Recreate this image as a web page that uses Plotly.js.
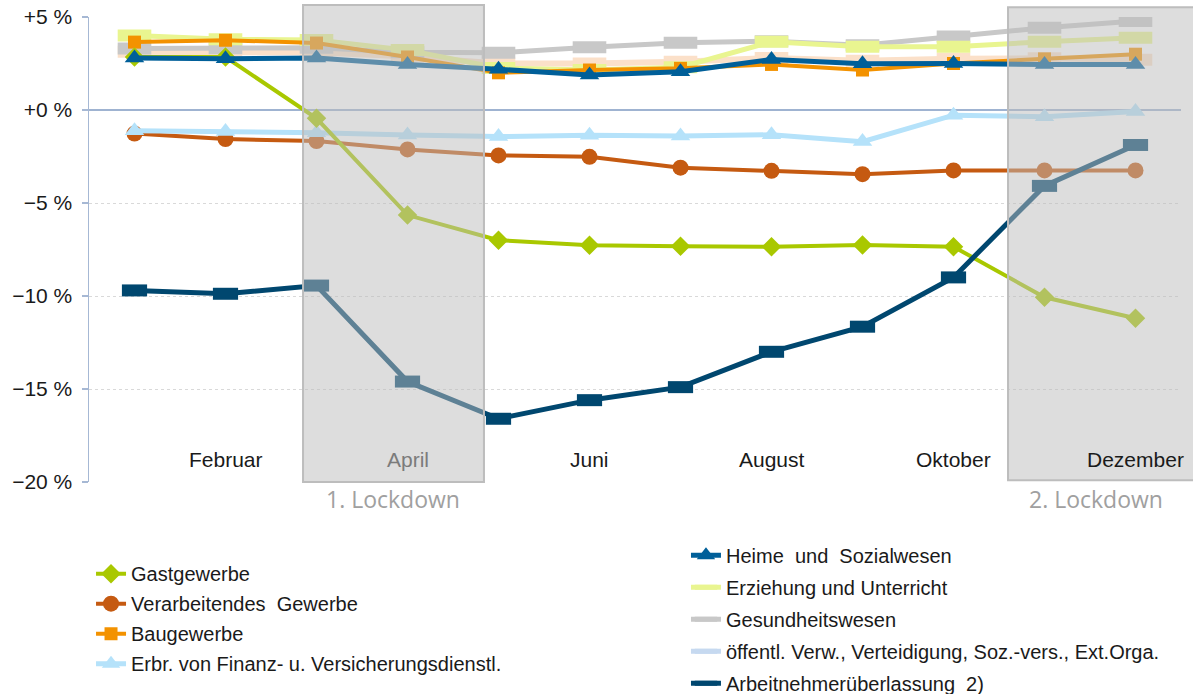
<!DOCTYPE html>
<html>
<head>
<meta charset="utf-8">
<script src="https://cdn.plot.ly/plotly-3.0.1.min.js"></script>
<style>html,body{margin:0;padding:0;background:#fff;}#chart{width:1193px;height:694px;}</style>
</head>
<body>
<div id="chart"></div>
<script>
var months = ['Januar','Februar','März','April','Mai','Juni','Juli','August','September','Oktober','November','Dezember'];

var gastgewerbe   = [2.85, 2.85, -0.45, -5.65, -7.0, -7.27, -7.32, -7.35, -7.26, -7.35, -10.07, -11.2];
var verarbeitend  = [-1.27, -1.56, -1.67, -2.12, -2.44, -2.52, -3.1, -3.27, -3.45, -3.25, -3.25, -3.25];
var baugewerbe    = [3.65, 3.75, 3.6, 2.85, 2.0, 2.15, 2.24, 2.45, 2.15, 2.5, 2.75, 3.0];
var finanz        = [-1.11, -1.15, -1.22, -1.34, -1.43, -1.36, -1.4, -1.33, -1.7, -0.28, -0.36, -0.08];
var heime         = [2.8, 2.75, 2.8, 2.45, 2.19, 1.88, 2.06, 2.72, 2.48, 2.5, 2.45, 2.45];
var erziehung     = [4.0, 3.8, 3.76, 3.22, 2.26, 2.15, 2.3, 3.67, 3.4, 3.4, 3.67, 3.89];
var gesundheit    = [3.3, 3.32, 3.35, 3.1, 3.08, 3.37, 3.62, 3.7, 3.48, 3.95, 4.42, 4.78];
var oeffentlich   = [3.13, 3.15, 3.1, 2.87, 2.5, 2.5, 2.6, 2.8, 2.65, 2.75, 2.78, 2.7];
var arbeitnehmer  = [-9.7, -9.88, -9.44, -14.6, -16.6, -15.6, -14.9, -13.0, -11.65, -9.0, -4.08, -1.88];

var yTickVals = [-20, -15, -10, -5, 0, 5];
var yTickText = ['\u221220 %', '\u221215 %', '\u221210 %', '\u22125 %', '+0 %', '+5 %'];
var monthLabelIdx = [1, 3, 5, 7, 9, 11];
var monthLabelColor = ['#1a1a1a', '#7b7b7b', '#1a1a1a', '#1a1a1a', '#1a1a1a', '#1a1a1a'];
var lockdownLabels = ['1. Lockdown', '2. Lockdown'];

function tr(name, y, color, lw, symbol, size, legend, rank, extra) {
  var t = {
    type: 'scatter', mode: 'lines+markers', name: name, x: months, y: y,
    line: {color: color, width: lw},
    marker: {symbol: symbol, size: size, color: color, line: {color: color, width: 0}},
    legend: legend, legendrank: rank, legendgroup: name, hoverinfo: 'skip'
  };
  if (extra) { for (var k in extra) t[k] = extra[k]; }
  return t;
}
function barMarker(color, size, w) {
  return {symbol: 'line-ew', size: size, color: color, line: {color: color, width: w}};
}

var cPeach = '#fbe0c9';
var traces = [
  tr('oev-line', oeffentlich, cPeach, 6, 'line-ew', 24, 'legend2', 4, {showlegend: false, legendgroup: 'oev', marker: barMarker(cPeach, 24, 12)}),
  tr('Gesundheitswesen', gesundheit, '#c8c8c8', 5, 'line-ew', 24, 'legend2', 3, {marker: barMarker('#c8c8c8', 24, 12)}),
  tr('Erziehung und Unterricht', erziehung, '#e9f590', 5, 'line-ew', 24, 'legend2', 2, {marker: barMarker('#e9f590', 24, 12)}),
  tr('Baugewerbe', baugewerbe, '#f39200', 4, 'square', 13, 'legend', 3),
  tr('Verarbeitendes\u00a0 Gewerbe', verarbeitend, '#c55a11', 4, 'circle', 16, 'legend', 2),
  tr('Erbr. von Finanz- u. Versicherungsdienstl.', finanz, '#b5e2fa', 5, 'triangle-up', 17, 'legend', 4),
  tr('Gastgewerbe', gastgewerbe, '#a9c800', 4, 'diamond', 15, 'legend', 1),
  tr('Heime\u00a0 und\u00a0 Sozialwesen', heime, '#005f99', 5, 'triangle-up', 17, 'legend2', 1),
  tr('Arbeitnehmerüberlassung\u00a0 2)', arbeitnehmer, '#00476f', 5, 'line-ew', 18, 'legend2', 5, {marker: barMarker('#00476f', 18, 12)}),
  tr('öffentl. Verw., Verteidigung, Soz.-vers., Ext.Orga.', months.map(function(){return null;}), '#c6d9f0', 5, 'line-ew', 24, 'legend2', 4, {legendgroup: 'oev', marker: barMarker('#c6d9f0', 24, 12)})
];

var annotations = monthLabelIdx.map(function(i, k) {
  return {x: months[i], y: -18.8, xref: 'x', yref: 'y', text: months[i], showarrow: false,
          font: {family: 'Liberation Sans, Arial, sans-serif', size: 21, color: monthLabelColor[k]}};
});
annotations.push({x: 0.278, y: -0.037, xref: 'paper', yref: 'paper', xanchor: 'center', yanchor: 'middle',
  text: lockdownLabels[0], showarrow: false, font: {family: 'Open Sans, sans-serif', size: 23, color: '#a0a0a0'}});
annotations.push({x: 0.9222, y: -0.037, xref: 'paper', yref: 'paper', xanchor: 'center', yanchor: 'middle',
  text: lockdownLabels[1], showarrow: false, font: {family: 'Open Sans, sans-serif', size: 23, color: '#a0a0a0'}});

var shapes = [
  {type: 'rect', xref: 'paper', yref: 'paper', x0: 0.196, x1: 0.3617, y0: 0, y1: 1.026, layer: 'above',
   fillcolor: 'rgba(188,188,188,0.5)', line: {color: '#bdbdbd', width: 2}},
  {type: 'rect', xref: 'paper', yref: 'paper', x0: 0.8416, x1: 1.03, y0: 0.004, y1: 1.021, layer: 'above',
   fillcolor: 'rgba(188,188,188,0.5)', line: {color: '#bdbdbd', width: 2}}
];

var legendFont = {family: 'Liberation Sans, Arial, sans-serif', size: 20, color: '#1a1a1a'};
var layout = {
  width: 1193, height: 694,
  margin: {l: 89, r: 12, t: 17, b: 212, autoexpand: false},
  paper_bgcolor: '#ffffff', plot_bgcolor: '#ffffff',
  showlegend: true,
  xaxis: {type: 'category', range: [-0.5, 11.5], showticklabels: false, showgrid: false,
          zeroline: false, showline: false, ticks: '', fixedrange: true},
  yaxis: {range: [-20, 5], tickvals: yTickVals, ticktext: yTickText, ticks: 'outside', ticklen: 6,
          tickcolor: '#a6b8d4', tickwidth: 1.5, showline: true, linecolor: '#a6b8d4', linewidth: 1.5,
          showgrid: true, gridcolor: '#d9d9d9', griddash: '3px,3px', gridwidth: 1,
          zeroline: true, zerolinecolor: '#9fb3d1', zerolinewidth: 1.5, ticklabelstandoff: 5,
          tickfont: {family: 'Liberation Sans, Arial, sans-serif', size: 21, color: '#1a1a1a'}, fixedrange: true},
  legend: {xref: 'container', yref: 'container', x: 0.0763, y: 0.2015, xanchor: 'left', yanchor: 'top',
           bgcolor: 'rgba(0,0,0,0)', font: legendFont, tracegroupgap: 1, traceorder: 'grouped'},
  legend2: {xref: 'container', yref: 'container', x: 0.575, y: 0.228, xanchor: 'left', yanchor: 'top',
            bgcolor: 'rgba(0,0,0,0)', font: legendFont, tracegroupgap: 3, traceorder: 'grouped'},
  annotations: annotations,
  shapes: shapes
};

Plotly.newPlot('chart', traces, layout, {displayModeBar: false, staticPlot: true});
</script>
</body>
</html>
